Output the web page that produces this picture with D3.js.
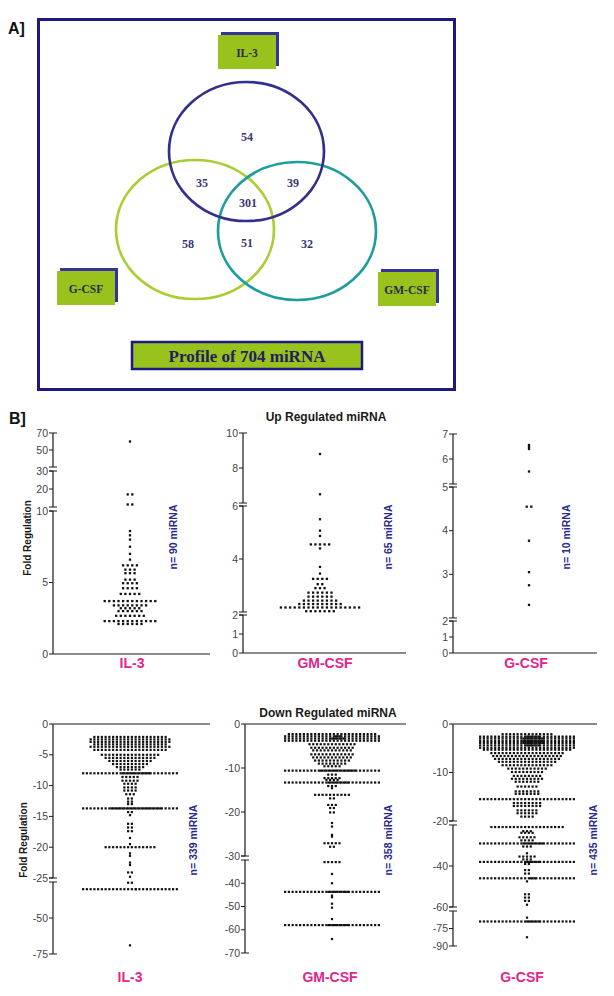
<!DOCTYPE html>
<html><head><meta charset="utf-8">
<script src="https://cdn.jsdelivr.net/npm/d3@7"></script>
<style>body{margin:0;background:#fff}svg{display:block}</style>
</head><body>
<svg id="c" width="614" height="996"></svg>
<script>
// ---------------- DATA ----------------
const vennSets = ["IL-3", "G-CSF", "GM-CSF"];
const vennRegionKeys = ["IL-3 only", "IL-3∩G-CSF", "IL-3∩GM-CSF", "all", "G-CSF only", "G-CSF∩GM-CSF", "GM-CSF only"];
const vennRegionValues = [54, 35, 39, 301, 58, 51, 32];
const vennTitle = "Profile of 704 miRNA";

const groups = ["IL-3", "GM-CSF", "G-CSF"];
const upTitle = "Up Regulated miRNA";
const downTitle = "Down Regulated miRNA";
const yLabel = "Fold Regulation";
const upN = [90, 65, 10];
const downN = [339, 358, 435];

const upTicks = [[0, 5, 10, 20, 30, 50, 70], [0, 1, 2, 4, 6, 8, 10], [0, 1, 2, 3, 4, 5, 6, 7]];
const upBreaks = [[10, 30], [2, 6], [2, 5]];
const downTicks = [[0, -5, -10, -15, -20, -25, -50, -75], [0, -10, -20, -30, -40, -50, -60, -70], [0, -10, -20, -40, -60, -75, -90]];
const downBreaks = [[-25], [-30], [-20, -60]];

// rows of points: [fold value, number of miRNA at that value]
const upIL3 = [[60,1],[17,2],[11.4,2],[8.6,1],[8.3,1],[8.0,1],[7.5,1],[7.0,1],[6.6,1],[6.2,4],[5.9,3],[5.65,3],[5.2,3],
  [4.95,4],[4.6,4],[4.2,5],[3.7,12],[3.4,8],[3.2,5],[3.0,6],[2.67,7],[2.3,12],[2.1,6]];
const upGM = [[8.8,1],[6.5,1],[5.5,1],[5.07,1],[4.87,1],[4.55,5],[4.4,1],[3.7,1],[3.45,1],[3.25,4],[3.05,2],
  [2.9,3],[2.73,6],[2.58,6],[2.43,8],[2.3,10],[2.17,18],[2.03,7]];
const upG = [[6.56,1],[6.48,1],[6.4,1],[5.5,1],[4.55,2],[3.77,1],[3.05,1],[2.75,1],[2.3,1]];

const downIL3 = [[-2.1,20],[-2.5,22],[-2.9,22],[-3.3,20],[-3.7,22],[-4.2,20],
  [-5.0,16],[-5.5,14],[-6.0,12],[-6.5,10],[-7.0,8],[-7.4,6],[-8.0,34],
  [-8.6,5],[-9.2,5],[-9.7,4],[-10.3,4],[-10.8,4],[-11.4,3],[-12.1,2],[-12.6,2],[-13.0,2],[-13.7,40],
  [-14.3,2],[-14.8,1],[-16.2,2],[-16.8,2],[-17.4,2],[-18.5,1],[-19.5,1],[-20.0,14],
  [-21.0,1],[-21.4,1],[-22.5,1],[-22.9,1],[-24.1,2],[-24.8,1],[-25.5,2],[-30,27],[-69,1]];
const downGM = [[-2.3,24],[-2.8,28],[-3.3,30],[-3.8,26],
  [-4.6,13],[-5.4,12],[-6.0,11],[-6.9,12],[-7.6,11],[-8.3,10],[-9.0,8],[-9.6,5],[-10.6,36],
  [-11.5,3],[-12.3,5],[-12.7,4],[-13.3,32],[-14.1,3],[-14.6,1],[-16.1,10],[-16.9,2],[-18.4,3],[-19.1,2],[-20.1,2],
  [-22.5,1],[-23.3,1],[-25.2,1],[-25.6,1],[-27.1,5],[-27.9,2],[-30.9,5],[-36,1],[-40,1],[-43.7,32],
  [-45.3,1],[-46,1],[-48.8,1],[-50.5,1],[-55.4,1],[-58,32],[-64,1]];
const downG = [[-2.1,14],[-2.6,30],[-3.0,32],[-3.5,32],[-3.9,32],[-4.4,30],[-4.9,26],[-5.3,24],
  [-6.0,20],[-6.6,19],[-7.2,18],[-7.8,16],[-8.5,14],[-9.2,11],[-9.9,9],[-10.7,8],[-11.3,9],[-11.9,7],[-12.9,6],[-13.9,7],[-14.4,7],
  [-15.5,26],[-16.3,8],[-16.9,8],[-17.8,6],[-18.4,6],[-19.1,4],
  [-21,20],[-23,3],[-23.8,4],[-26,5],[-27.5,4],
  [-29,32],[-30.5,3],[-33.8,1],[-35.4,5],[-36.8,3],
  [-38,30],[-39,2],[-42,2],[-43.7,2],[-46,28],[-47.5,1],
  [-53.8,2],[-55.4,2],[-57,2],[-58.9,1],[-65.7,1],[-69,30],[-82.5,1]];

const upData = [upIL3, upGM, upG];
const downData = [downIL3, downGM, downG];

// ---------------- LAYOUT ----------------
const svg = d3.select("#c");
const NAVY = "#1d1883", GREEN = "#99c21d", NUM = "#3b3476";
const SANS = "'Liberation Sans', Arial, sans-serif";
const SERIF = "'Liberation Serif', 'Times New Roman', serif";

svg.append("text").attr("x", 8).attr("y", 34).attr("font-family", SANS).attr("font-weight", "bold")
  .attr("font-size", 16).attr("fill", "#111").text("A]");
svg.append("text").attr("x", 9).attr("y", 424).attr("font-family", SANS).attr("font-weight", "bold")
  .attr("font-size", 16).attr("fill", "#111").text("B]");

svg.append("rect").attr("x", 38.5).attr("y", 19.5).attr("width", 416).attr("height", 370)
  .attr("fill", "none").attr("stroke", NAVY).attr("stroke-width", 3);

const vennCircles = [
  {cx: 246.5, cy: 151.5, rx: 77.5, ry: 69.5, color: "#33308a"},
  {cx: 195, cy: 229.5, rx: 79, ry: 69.5, color: "#a9cd33"},
  {cx: 297, cy: 231, rx: 79, ry: 69, color: "#1f9c9c"}
];
[1, 2, 0].forEach(i => {
  const c = vennCircles[i];
  svg.append("ellipse").attr("cx", c.cx).attr("cy", c.cy).attr("rx", c.rx).attr("ry", c.ry)
    .attr("fill", "none").attr("stroke", c.color).attr("stroke-width", 2.7);
});
const regionPos = [[247,137],[202,183],[293,183],[248,203],[188,244],[247,243],[307,244]];
vennRegionValues.forEach((v, i) => {
  svg.append("text").attr("x", regionPos[i][0]).attr("y", regionPos[i][1]).attr("dy", "0.35em")
    .attr("text-anchor", "middle").attr("font-family", SERIF).attr("font-weight", "bold")
    .attr("font-size", 12).attr("fill", NUM).text(v);
});
const boxPos = [[218, 35], [57, 271], [378, 272]];
vennSets.forEach((s, i) => {
  const [x, y] = boxPos[i];
  svg.append("rect").attr("x", x + 3).attr("y", y - 3).attr("width", 58).attr("height", 34).attr("fill", "#34349a");
  svg.append("rect").attr("x", x).attr("y", y).attr("width", 58).attr("height", 34).attr("fill", GREEN);
  svg.append("text").attr("x", x + 29).attr("y", y + 18).attr("dy", "0.35em").attr("text-anchor", "middle")
    .attr("font-family", SERIF).attr("font-weight", "bold").attr("font-size", 11.5).attr("fill", "#2a2a45").text(s);
});
svg.append("rect").attr("x", 132).attr("y", 342).attr("width", 230).attr("height", 27)
  .attr("fill", GREEN).attr("stroke", NAVY).attr("stroke-width", 2.5);
svg.append("text").attr("x", 247).attr("y", 356).attr("dy", "0.35em").attr("text-anchor", "middle")
  .attr("font-family", SERIF).attr("font-weight", "bold").attr("font-size", 17).attr("fill", "#232060").text(vennTitle);

// ---------------- DOT PLOTS ----------------
function pieceScale(bounds, pix) {
  const segs = [];
  for (let i = 0; i < bounds.length - 1; i++) {
    segs.push({d: [bounds[i], bounds[i + 1]], s: d3.scaleLinear().domain([bounds[i], bounds[i + 1]]).range(pix[i])});
  }
  const f = v => {
    for (const sg of segs) {
      const lo = Math.min(...sg.d), hi = Math.max(...sg.d);
      if (v >= lo && v <= hi) return sg.s(v);
    }
    return segs[segs.length - 1].s(v);
  };
  f.segs = segs;
  return f;
}

const upLayout = [
  {ax: 53, xEnd: 210, cx: 130, pix: [[654, 511], [507, 471], [467, 433]]},
  {ax: 243, xEnd: 406, cx: 320, pix: [[653, 615], [612, 506], [503, 433]]},
  {ax: 453, xEnd: 597, cx: 529, pix: [[653, 621], [618, 487], [484, 434]]}
];
const downLayout = [
  {ax: 53, xEnd: 210, cx: 130, pix: [[724, 878], [882, 954]]},
  {ax: 245, xEnd: 406, cx: 332, pix: [[724, 856], [860, 953]]},
  {ax: 453, xEnd: 597, cx: 527, pix: [[724, 821], [825, 907], [911, 946]]}
];

function drawPanel(ticks, breaks, rows, L, up, n, name, idx) {
  const ext = up ? d3.max(ticks) : d3.min(ticks);
  const bounds = [0, ...breaks, ext];
  const y = pieceScale(bounds, L.pix);
  const g = svg.append("g");
  const axisColor = "#1a1a1a";
  const x0 = L.pix[0][0];
  g.append("line").attr("x1", L.ax).attr("x2", L.xEnd).attr("y1", x0).attr("y2", x0)
    .attr("stroke", axisColor).attr("stroke-width", 1.2);
  y.segs.forEach(sg => {
    g.append("line").attr("x1", L.ax).attr("x2", L.ax).attr("y1", sg.s.range()[0]).attr("y2", sg.s.range()[1])
      .attr("stroke", axisColor).attr("stroke-width", 1.2);
  });
  for (let i = 0; i < y.segs.length - 1; i++) {
    [y.segs[i].s.range()[1], y.segs[i + 1].s.range()[0]].forEach(yy => {
      g.append("line").attr("x1", L.ax - 4).attr("x2", L.ax + 4).attr("y1", yy).attr("y2", yy)
        .attr("stroke", axisColor).attr("stroke-width", 1);
    });
  }
  ticks.forEach(t => {
    const yy = y(t);
    const isEnd = t === ext;
    g.append("line").attr("x1", L.ax - 4).attr("x2", isEnd ? L.ax + 4 : L.ax).attr("y1", yy).attr("y2", yy)
      .attr("stroke", axisColor).attr("stroke-width", 1);
    g.append("text").attr("x", L.ax - 5).attr("y", yy).attr("dy", "0.35em").attr("text-anchor", "end")
      .attr("font-family", SANS).attr("font-size", 10.5).attr("fill", "#444").text(t);
  });
  const sp = up ? 4.6 : 3.75, ds = up ? 2.3 : 2.2, maxRow = up ? 20 : 26;
  const pts = [];
  rows.forEach(([v, c]) => {
    const yy = y(v);
    const m = Math.min(c, maxRow);
    for (let i = 0; i < m; i++) pts.push([L.cx + (i - (m - 1) / 2) * sp, yy]);
    const extra = c - m;
    // overflow points are slotted in between the regular ones
    for (let i = 0; i < extra; i++) pts.push([L.cx + 4 + (i - (extra - 1) / 2) * sp + sp / 2, yy]);
  });
  g.selectAll("rect.dot").data(pts).join("rect").attr("class", "dot")
    .attr("x", d => d[0] - ds / 2).attr("y", d => d[1] - ds / 2).attr("width", ds).attr("height", ds).attr("fill", "#111");
  const nx = [173, 388, 566][idx] + (up ? 0 : [20, 0, 27][idx]);
  const ny = up ? 537 : 840;
  g.append("text").attr("transform", `translate(${nx},${ny}) rotate(-90)`).attr("text-anchor", "middle")
    .attr("dy", "0.35em").attr("font-family", SANS).attr("font-weight", "bold").attr("font-size", 10.5)
    .attr("fill", "#2b2a8c").text(`n= ${n} miRNA`);
  g.append("text").attr("x", [132, 325, 526][idx] + (up ? 0 : [-2, 5, -4][idx])).attr("y", up ? 668 : 982)
    .attr("text-anchor", "middle").attr("font-family", SANS).attr("font-weight", "bold").attr("font-size", 14)
    .attr("fill", "#e2258b").text(name);
}

groups.forEach((gname, i) => {
  drawPanel(upTicks[i], upBreaks[i], upData[i], upLayout[i], true, upN[i], gname, i);
  drawPanel(downTicks[i], downBreaks[i], downData[i], downLayout[i], false, downN[i], gname, i);
});

svg.append("text").attr("x", 326).attr("y", 421).attr("text-anchor", "middle").attr("font-family", SANS)
  .attr("font-weight", "bold").attr("font-size", 12).attr("fill", "#1a1a1a").text(upTitle);
svg.append("text").attr("x", 328).attr("y", 717).attr("text-anchor", "middle").attr("font-family", SANS)
  .attr("font-weight", "bold").attr("font-size", 12).attr("fill", "#1a1a1a").text(downTitle);
[[27, 538], [23, 840]].forEach(([x, yv]) => {
  svg.append("text").attr("transform", `translate(${x},${yv}) rotate(-90)`).attr("text-anchor", "middle")
    .attr("dy", "0.35em").attr("font-family", SANS).attr("font-weight", "bold").attr("font-size", 10)
    .attr("fill", "#1a1a1a").text(yLabel);
});
</script>
</body></html>
